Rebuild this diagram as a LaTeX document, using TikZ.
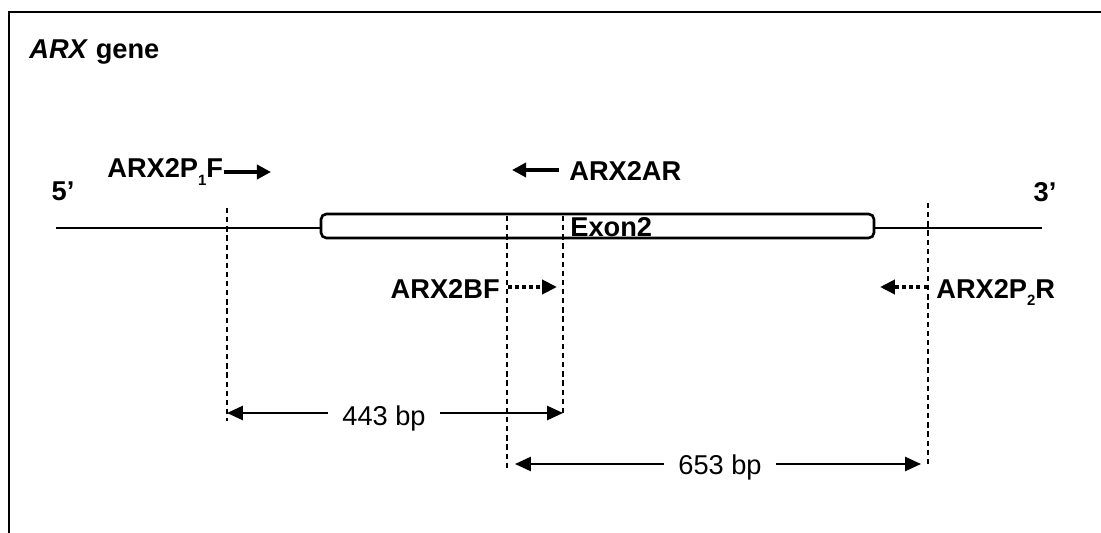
\documentclass[tikz,border=0pt]{standalone}
\usepackage{fontspec}
\setmainfont{Liberation Sans}
\usepackage{tikz}
\usetikzlibrary{arrows.meta, positioning, calc}
\newcommand{\genefont}{\fontsize{15.5}{18}\selectfont}
\newcommand{\psub}[1]{\raisebox{-4.5pt}{\fontsize{8.5}{8.5}\selectfont\bfseries #1}}
\tikzset{
	gline/.style    ={line width=1.4pt, line cap=rect},
	exonbox/.style  ={rectangle, draw=black, line width=1.5pt, rounded corners=3pt, minimum width=11.06cm, minimum height=0.48cm, inner sep=0pt},
	lbl/.style      ={font=\genefont\bfseries, inner sep=0pt},
	primer/.style   ={-{Triangle[length=8pt, width=8pt]}, line width=2.1pt},
	primerdot/.style={-{Triangle[length=8.5pt, width=8pt]}, line width=2.1pt, dash pattern=on 2pt off 2pt},
	guide/.style    ={line width=1pt, dash pattern=on 3pt off 2.2pt},
	dim/.style      ={-{Triangle[length=9pt, width=8pt]}, line width=1.1pt},
	bplbl/.style    ={font=\genefont, inner xsep=8pt, inner ysep=0pt},
}
\begin{document}
\begin{tikzpicture}[x=0.02cm, y=-0.02cm]
	\useasboundingbox (0,0) rectangle (1101,533);
	\draw[line width=1.7pt] (9,533) -- (9,12) -- (1101,12);
	\node[lbl, anchor=base west] (title) at (29,59) {\textit{ARX} gene};
	% gene with exon 2
	\node[lbl, anchor=base] (five) at (63,201) {5’};
	\node[lbl, anchor=base] (three) at (1045,202) {3’};
	\coordinate (g5) at (57,228);
	\coordinate (g3) at (1041,228);
	\node[exonbox] (exon) at (597.5,226) {};
	\draw[gline] (g5) -- (exon.west |- g5);
	\draw[gline] (exon.east |- g3) -- (g3);
	\node[lbl, anchor=base west] (exlab) at (570,237) {Exon2};
	% primer positions
	\coordinate (p1t) at (227,208);  \coordinate (p1b) at (227,421);
	\coordinate (bft) at (507,216);  \coordinate (bfb) at (507,469);
	\coordinate (art) at (563,216);  \coordinate (arb) at (563,416);
	\coordinate (p2t) at (928,203);  \coordinate (p2b) at (928,464);
	\foreach \a/\b in {p1t/p1b, bft/bfb, art/arb, p2t/p2b}
		\draw[guide] (\a) -- (\b);
	% primers
	\node[lbl, anchor=base west] (p1f) at (107,178) {ARX2P\psub{1}F};
	\coordinate (p1fa) at (224,172);  \coordinate (p1fb) at (271,172);
	\draw[primer] (p1fa) -- (p1fb);
	\node[lbl, anchor=base west] (ar) at (569,181) {ARX2AR};
	\coordinate (ara) at (559,170);  \coordinate (arz) at (512,170);
	\draw[primer] (ara) -- (arz);
	\node[lbl, anchor=base east] (bf) at (500,298) {ARX2BF};
	\coordinate (bfa) at (508,287);  \coordinate (bfz) at (557,287);
	\draw[primerdot] (bfa) -- (bfz);
	\node[lbl, anchor=base west] (p2r) at (936,298) {ARX2P\psub{2}R};
	\coordinate (p2a) at (927,287);  \coordinate (p2z) at (880,287);
	\draw[primerdot] (p2a) -- (p2z);
	% product sizes
	\node[bplbl, anchor=base] (bp443) at (384,425) {443 bp};
	\coordinate (d1) at (227,413);  \coordinate (d2) at (563,413);
	\draw[dim] (bp443.west |- d1) -- (d1);
	\draw[dim] (bp443.east |- d2) -- (d2);
	\node[bplbl, anchor=base] (bp653) at (720,474) {653 bp};
	\coordinate (d3) at (515,464);  \coordinate (d4) at (921,464);
	\draw[dim] (bp653.west |- d3) -- (d3);
	\draw[dim] (bp653.east |- d4) -- (d4);
\end{tikzpicture}
\end{document}
